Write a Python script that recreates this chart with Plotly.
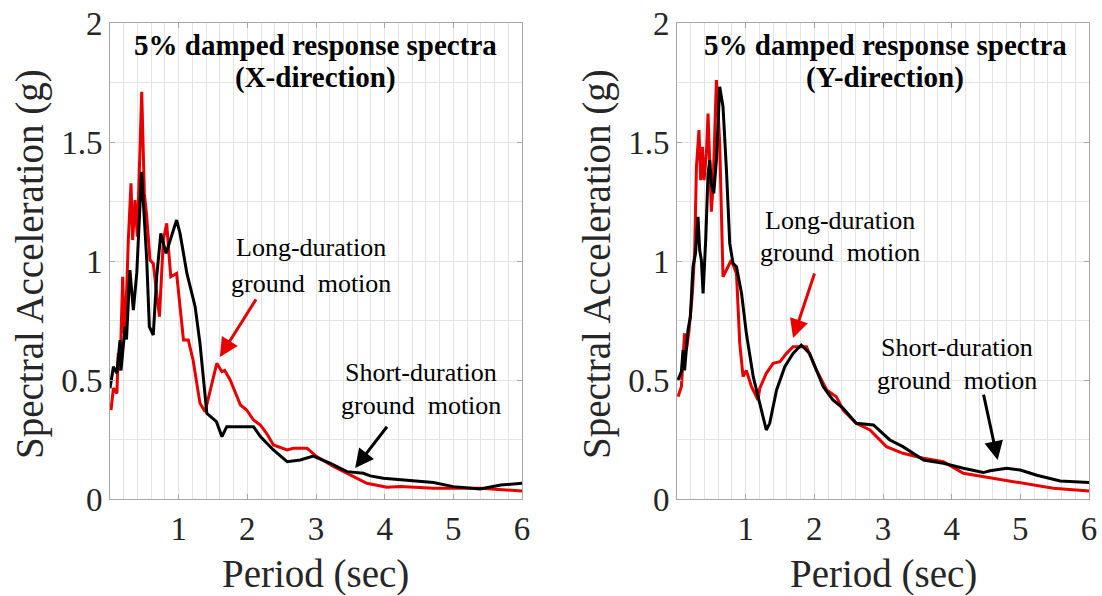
import plotly.graph_objects as go

# ---------------- data ----------------
# X-direction, short-duration ground motion (black)
x_short_X = [0.0, 0.05, 0.10, 0.146, 0.16, 0.22, 0.24, 0.29, 0.34, 0.39, 0.46, 0.535, 0.573, 0.63, 0.68,
             0.74, 0.816, 0.97, 1.02, 1.12, 1.24, 1.31, 1.41, 1.46, 1.55, 1.63, 1.70, 2.09, 2.19, 2.38,
             2.58, 2.77, 2.96, 3.21, 3.45, 3.69, 3.79, 3.98, 4.71, 5.0, 5.39, 5.69, 6.0]
sa_short_X = [0.465, 0.556, 0.528, 0.668, 0.54, 0.724, 0.67, 0.962, 0.794, 0.95, 1.375, 1.004, 0.724, 0.689,
              0.934, 1.116, 1.032, 1.172, 1.116, 0.948, 0.808, 0.655, 0.36, 0.346, 0.325, 0.262, 0.304,
              0.304, 0.262, 0.206, 0.157, 0.164, 0.18, 0.15, 0.115, 0.108, 0.097, 0.087, 0.069, 0.052,
              0.042, 0.059, 0.066]

# X-direction, long-duration ground motion (red)
x_long_X = [0.015, 0.05, 0.10, 0.12, 0.146, 0.185, 0.204, 0.243, 0.267, 0.306, 0.33, 0.364, 0.398, 0.462,
            0.50, 0.535, 0.583, 0.63, 0.68, 0.72, 0.777, 0.826, 0.85, 0.885, 0.97, 1.07, 1.14, 1.21, 1.31,
            1.385, 1.555, 1.63, 1.67, 1.75, 1.9, 1.99, 2.09, 2.19, 2.28, 2.38, 2.58, 2.67, 2.87, 3.01,
            3.26, 3.50, 3.74, 4.03, 4.23, 4.71, 5.39, 6.0]
sa_long_X = [0.374, 0.466, 0.444, 0.612, 0.54, 0.934, 0.697, 0.878, 1.088, 1.326, 1.088, 1.256, 1.102,
             1.711, 1.284, 1.186, 1.004, 0.99, 0.864, 0.766, 1.088, 1.158, 1.06, 0.934, 0.948, 0.668,
             0.668, 0.584, 0.402, 0.367, 0.57, 0.535, 0.54, 0.5, 0.395, 0.374, 0.332, 0.311, 0.276,
             0.227, 0.206, 0.213, 0.213, 0.178, 0.136, 0.10, 0.066, 0.049, 0.052, 0.045, 0.045, 0.034]

# Y-direction, short-duration ground motion (black)
x_short_Y = [0.015, 0.064, 0.088, 0.11, 0.16, 0.195, 0.233, 0.27, 0.306, 0.33, 0.355, 0.38, 0.418, 0.452,
             0.477, 0.50, 0.535, 0.574, 0.622, 0.67, 0.72, 0.768, 0.816, 0.866, 0.94, 1.01, 1.11, 1.205,
             1.30, 1.35, 1.45, 1.57, 1.69, 1.81, 1.93, 2.03, 2.13, 2.27, 2.42, 2.61, 2.86, 3.10, 3.29,
             3.59, 3.88, 4.17, 4.46, 4.56, 4.80, 5.0, 5.24, 5.58, 6.0]
sa_short_Y = [0.5, 0.535, 0.626, 0.54, 0.71, 0.766, 0.976, 1.032, 1.186, 1.046, 1.004, 0.864, 1.088, 1.368,
              1.424, 1.326, 1.284, 1.424, 1.732, 1.648, 1.382, 1.074, 0.99, 0.976, 0.864, 0.696, 0.514,
              0.402, 0.29, 0.318, 0.458, 0.556, 0.612, 0.647, 0.612, 0.542, 0.472, 0.416, 0.381, 0.318,
              0.311, 0.248, 0.22, 0.164, 0.15, 0.129, 0.111, 0.119, 0.129, 0.122, 0.10, 0.076, 0.069]

# Y-direction, long-duration ground motion (red)
x_long_Y = [0.015, 0.064, 0.11, 0.137, 0.175, 0.224, 0.258, 0.283, 0.32, 0.345, 0.37, 0.394, 0.428, 0.452,
            0.477, 0.50, 0.525, 0.574, 0.622, 0.67, 0.743, 0.79, 0.866, 0.914, 0.962, 1.01, 1.085, 1.13,
            1.18, 1.205, 1.30, 1.40, 1.50, 1.595, 1.69, 1.79, 1.885, 2.03, 2.18, 2.32, 2.42, 2.61, 2.81,
            3.05, 3.29, 3.59, 3.88, 4.17, 4.51, 5.0, 5.48, 6.0]
sa_long_Y = [0.43, 0.472, 0.696, 0.626, 0.71, 0.864, 1.046, 1.396, 1.55, 1.34, 1.48, 1.34, 1.452, 1.62,
             1.41, 1.207, 1.312, 1.76, 1.494, 0.934, 0.976, 1.004, 0.948, 0.654, 0.514, 0.54, 0.472, 0.444,
             0.416, 0.465, 0.528, 0.57, 0.577, 0.612, 0.64, 0.64, 0.64, 0.542, 0.458, 0.43, 0.374, 0.318,
             0.29, 0.22, 0.192, 0.171, 0.157, 0.108, 0.091, 0.066, 0.045, 0.034]

x_tickvals = [1, 2, 3, 4, 5, 6]
x_ticktext = ["1", "2", "3", "4", "5", "6"]
y_tickvals = [0, 0.5, 1, 1.5, 2]
y_ticktext = ["0", "0.5", "1", "1.5", "2"]

panel_titles = [("5% damped response spectra", "(X-direction)"),
                ("5% damped response spectra", "(Y-direction)")]
x_title = "Period (sec)"
y_title = "Spectral Acceleration (g)"
long_label = ("Long-duration", "ground  motion")
short_label = ("Short-duration", "ground  motion")

# ---------------- figure ----------------
W, H = 1102, 596
RED = "#e60000"
SERIF = "Liberation Serif, Times New Roman, serif"


def px(x):
    return x / W


def py(y):
    return 1 - y / H


fig = go.Figure()
fig.add_trace(go.Scatter(x=x_long_X, y=sa_long_X, mode="lines", line=dict(color=RED, width=3),
                         xaxis="x", yaxis="y", showlegend=False))
fig.add_trace(go.Scatter(x=x_short_X, y=sa_short_X, mode="lines", line=dict(color="black", width=3),
                         xaxis="x", yaxis="y", showlegend=False))
fig.add_trace(go.Scatter(x=x_long_Y, y=sa_long_Y, mode="lines", line=dict(color=RED, width=3),
                         xaxis="x2", yaxis="y2", showlegend=False))
fig.add_trace(go.Scatter(x=x_short_Y, y=sa_short_Y, mode="lines", line=dict(color="black", width=3),
                         xaxis="x2", yaxis="y2", showlegend=False))

ydom = [py(499), py(23)]
xdom1 = [px(110), px(522)]
xdom2 = [px(677), px(1089)]

GRID = "#e4e4e4"
FRAME = "#a6a6a6"


def xaxis_cfg(dom, anchor):
    return dict(domain=dom, anchor=anchor, range=[0, 6], tickmode="array", tickvals=x_tickvals,
                ticktext=x_ticktext, showgrid=True, gridcolor=GRID, gridwidth=1, zeroline=False,
                showline=True, linecolor=FRAME, linewidth=1, mirror="ticks", ticks="inside",
                ticklen=5, tickcolor=FRAME, automargin=False,
                tickfont=dict(family=SERIF, size=33, color="#262626"),
                minor=dict(tickmode="linear", tick0=0, dtick=0.2, showgrid=True, gridcolor=GRID,
                           gridwidth=1, ticks=""),
                fixedrange=True)


def yaxis_cfg(anchor):
    return dict(domain=ydom, anchor=anchor, range=[0, 2], tickmode="array", tickvals=y_tickvals,
                ticktext=y_ticktext, showgrid=True, gridcolor=GRID, gridwidth=1, zeroline=False,
                showline=True, linecolor=FRAME, linewidth=1, mirror="ticks", ticks="inside",
                ticklen=5, tickcolor=FRAME, automargin=False,
                tickfont=dict(family=SERIF, size=33, color="#262626"),
                minor=dict(tickmode="linear", tick0=0, dtick=0.25, showgrid=True, gridcolor=GRID,
                           gridwidth=1, ticks=""),
                fixedrange=True)


fig.update_layout(
    width=W, height=H, margin=dict(l=0, r=0, t=0, b=0, autoexpand=False),
    paper_bgcolor="white", plot_bgcolor="white",
    xaxis=xaxis_cfg(xdom1, "y"), yaxis=yaxis_cfg("x"),
    xaxis2=xaxis_cfg(xdom2, "y2"), yaxis2=yaxis_cfg("x2"),
    showlegend=False,
)

ann = []
# panel titles
for (l1, l2), cx in zip(panel_titles, [315, 885]):
    ann.append(dict(text="<b>" + l1 + "</b>", x=px(cx), y=py(45), xref="paper", yref="paper",
                    showarrow=False, xanchor="center", yanchor="middle",
                    font=dict(family=SERIF, size=29, color="black")))
    ann.append(dict(text="<b>" + l2 + "</b>", x=px(cx), y=py(78), xref="paper", yref="paper",
                    showarrow=False, xanchor="center", yanchor="middle",
                    font=dict(family=SERIF, size=29, color="black")))

# axis titles
for cx in [315, 883]:
    ann.append(dict(text=x_title, x=px(cx), y=py(574), xref="paper", yref="paper", showarrow=False,
                    xanchor="center", yanchor="middle", font=dict(family=SERIF, size=39, color="#262626")))
for cx in [30, 597]:
    ann.append(dict(text=y_title, x=px(cx), y=py(264), xref="paper", yref="paper", showarrow=False,
                    xanchor="center", yanchor="middle", textangle=-90,
                    font=dict(family=SERIF, size=39, color="#262626")))

# text labels
label_pos = [
    (long_label, 311, 247, 283),
    (short_label, 421, 372, 405),
    (long_label, 840, 220, 253),
    (short_label, 957, 347, 380),
]
for (l1, l2), cx, y1, y2 in label_pos:
    for t, yy in [(l1, y1), (l2, y2)]:
        ann.append(dict(text=t, x=px(cx), y=py(yy), xref="paper", yref="paper", showarrow=False,
                        xanchor="center", yanchor="middle",
                        font=dict(family=SERIF, size=26, color="black")))

# arrows (data coordinates: head x,y ; tail ax,ay)
arrows = [
    ("x", "y", 1.60, 0.597, 2.14, 0.845, RED),
    ("x", "y", 3.57, 0.13, 4.05, 0.31, "black"),
    ("x2", "y2", 1.69, 0.676, 2.01, 0.954, RED),
    ("x2", "y2", 4.67, 0.164, 4.46, 0.445, "black"),
]
for xr, yr, hx, hy, tx, ty, col in arrows:
    ann.append(dict(text="", x=hx, y=hy, ax=tx, ay=ty, xref=xr, yref=yr, axref=xr, ayref=yr,
                    showarrow=True, arrowhead=2, arrowsize=1.25, arrowwidth=3, arrowcolor=col,
                    standoff=0))

fig.update_layout(annotations=ann)
fig.write_html("out.html")
